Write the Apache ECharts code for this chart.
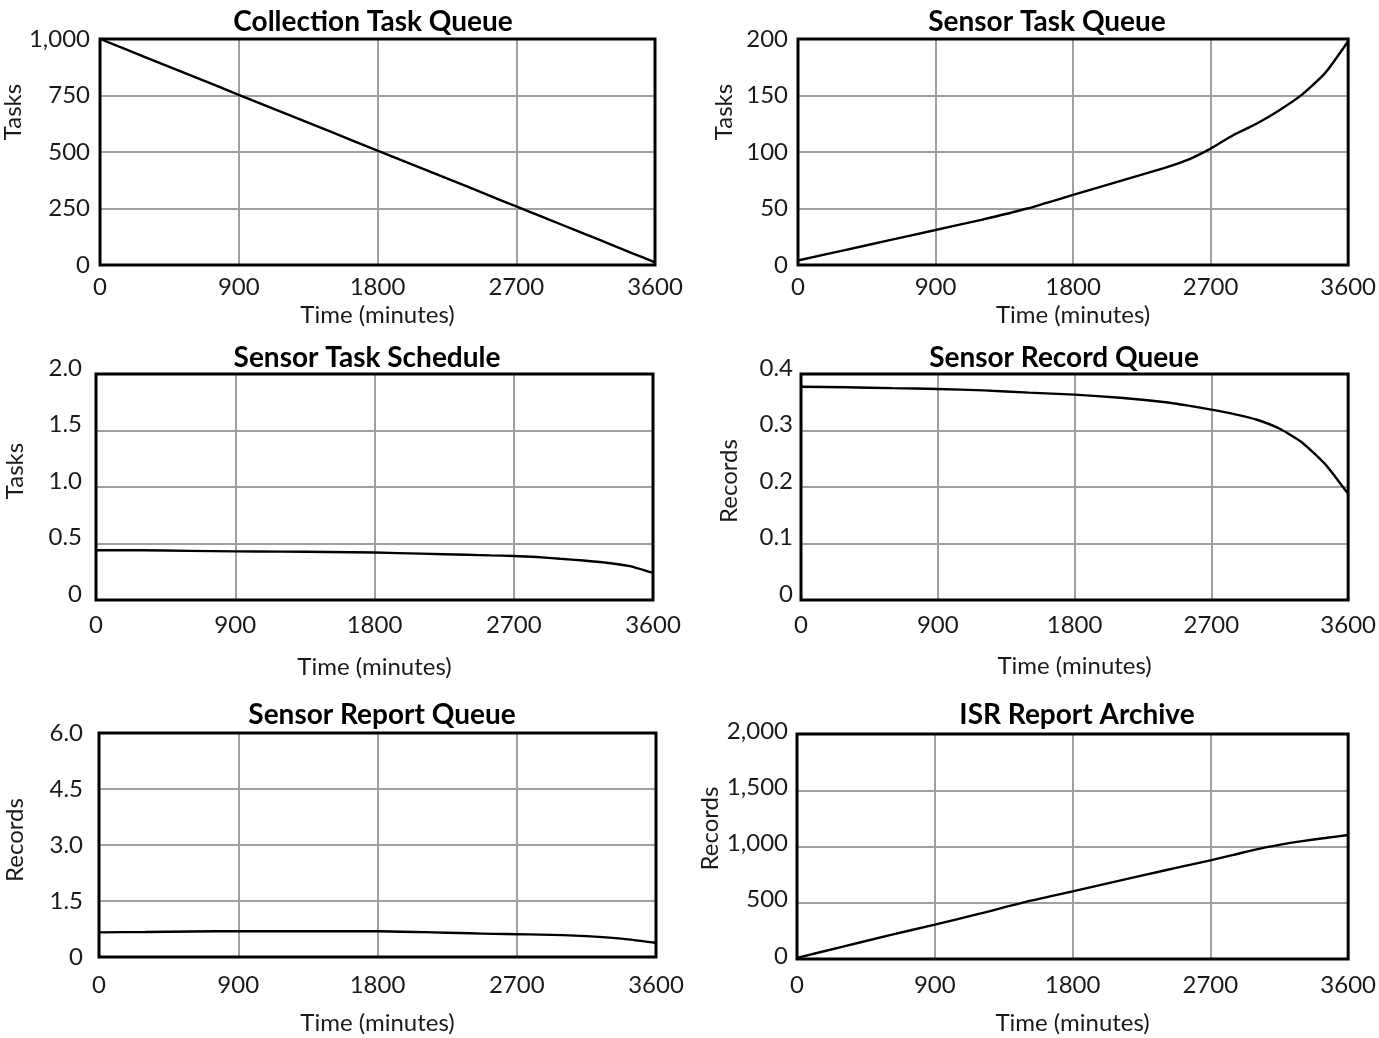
<!DOCTYPE html>
<html><head><meta charset="utf-8">
<script src="https://cdn.jsdelivr.net/npm/echarts@6/dist/echarts.min.js"></script>
<style>html,body{margin:0;padding:0;background:#fff}#c{width:1379px;height:1038px}</style>
</head><body><div id="c"></div>
<script>
// ---- data ----
const timeTicks = ['0', '900', '1800', '2700', '3600'];
const times = [0, 300, 600, 900, 1200, 1500, 1800, 2100, 2400, 2550, 2700, 2850, 3000, 3150, 3300, 3450, 3600];
const collectionTaskQueue = [1000, 918, 836, 753, 671, 589, 506, 424, 342, 300, 259, 218, 177, 136, 95, 53, 12];
const sensorTaskQueue = [4, 13, 22, 31, 40, 50, 62, 74, 86, 93, 103, 115, 125, 137, 151, 170, 198];
const sensorTaskSchedule = [0.44, 0.44, 0.435, 0.43, 0.428, 0.425, 0.42, 0.41, 0.40, 0.395, 0.39, 0.38, 0.365, 0.35, 0.33, 0.30, 0.24];
const sensorRecordQueue = [0.3775, 0.3765, 0.375, 0.3735, 0.371, 0.367, 0.3635, 0.358, 0.35, 0.344, 0.337, 0.329, 0.319, 0.303, 0.278, 0.24, 0.188];
const sensorReportQueue = [0.66, 0.67, 0.685, 0.69, 0.69, 0.69, 0.69, 0.665, 0.635, 0.62, 0.61, 0.60, 0.585, 0.56, 0.52, 0.46, 0.38];
const isrReportArchive = [10, 110, 210, 305, 405, 510, 601, 695, 787, 832, 877, 925, 975, 1015, 1048, 1075, 1102];

const titles = ['Collection Task Queue', 'Sensor Task Queue', 'Sensor Task Schedule', 'Sensor Record Queue', 'Sensor Report Queue', 'ISR Report Archive'];
const yNames = ['Tasks', 'Tasks', 'Tasks', 'Records', 'Records', 'Records'];
const yTicks1 = ['0', '250', '500', '750', '1,000'];
const yTicks2 = ['0', '50', '100', '150', '200'];
const yTicks3 = ['0', '0.5', '1.0', '1.5', '2.0'];
const yTicks4 = ['0', '0.1', '0.2', '0.3', '0.4'];
const yTicks5 = ['0', '1.5', '3.0', '4.5', '6.0'];
const yTicks6 = ['0', '500', '1,000', '1,500', '2,000'];
const yIntervals = [250, 50, 0.5, 0.1, 1.5, 500];
const xName = 'Time (minutes)';

// ---- layout ----
const seriesVals = [collectionTaskQueue, sensorTaskQueue, sensorTaskSchedule, sensorRecordQueue, sensorReportQueue, isrReportArchive];
const yTickSets = [yTicks1, yTicks2, yTicks3, yTicks4, yTicks5, yTicks6];
const layout = [
  {l: 97,  t: 39,  w: 558, h: 226, tx: 368,  ty: 3,   xm: 10, xg: 38, ym: 10, yg: 70, yshift: 80, yup: 0},
  {l: 798, t: 39,  w: 558, h: 226, tx: 1042, ty: 3,   xm: 10, xg: 38, ym: 10, yg: 62, yshift: 80, yup: 0},
  {l: 96,  t: 374, w: 557, h: 226, tx: 362,  ty: 339, xm: 13, xg: 55, ym: 14, yg: 69, yshift: 32, yup: 6},
  {l: 801, t: 374, w: 557, h: 226, tx: 1059, ty: 339, xm: 13, xg: 54, ym: 8,  yg: 60, yshift: 12, yup: 6},
  {l: 99,  t: 733, w: 557, h: 224, tx: 377,  ty: 696, xm: 16, xg: 54, ym: 16, yg: 72, yshift: 10, yup: 0},
  {l: 797, t: 734, w: 557, h: 225, tx: 1072, ty: 696, xm: 14, xg: 52, ym: 9,  yg: 75, yshift: 36, yup: 3}
];

const FONT = 'Lato, "Open Sans", sans-serif';
const option = {
  animation: false,
  backgroundColor: '#fff',
  title: [], grid: [], xAxis: [], yAxis: [], series: []
};

layout.forEach((p, i) => {
  option.title.push({
    text: titles[i], left: p.tx, top: p.ty, textAlign: 'center',
    textStyle: {fontFamily: FONT, fontSize: 28, fontWeight: 'bold', color: '#000'}
  });
  option.grid.push({
    left: p.l, top: p.t, width: p.w, height: p.h,
    show: true, borderColor: '#000', borderWidth: 3, backgroundColor: 'transparent', z: 5
  });
  option.xAxis.push({
    type: 'value', gridIndex: i, min: 0, max: 3600, interval: 900,
    name: xName, nameLocation: 'middle', nameGap: p.xg,
    nameTextStyle: {fontFamily: FONT, fontSize: 24, color: '#1a1a1a'},
    axisLine: {show: false}, axisTick: {show: false},
    axisLabel: {
      margin: p.xm, fontFamily: FONT, fontSize: 24, color: '#1a1a1a',
      formatter: v => timeTicks[Math.round(v / 900)]
    },
    splitLine: {show: true, lineStyle: {color: '#a0a0a0', width: 2}}
  });
  const ticks = yTickSets[i];
  const iv = yIntervals[i];
  const yLabel = {
    margin: p.ym, fontFamily: FONT, fontSize: 24, color: '#1a1a1a',
    formatter: v => ticks[Math.round(v / iv)]
  };
  if (p.yup > 0) { yLabel.verticalAlign = 'bottom'; yLabel.lineHeight = p.yup * 2; }
  option.yAxis.push({
    type: 'value', gridIndex: i, min: 0, max: iv * 4, interval: iv,
    name: yNames[i], nameLocation: 'middle', nameGap: p.yg,
    nameTextStyle: {fontFamily: FONT, fontSize: 24, color: '#1a1a1a', padding: [0, 0, 0, p.yshift]},
    axisLine: {show: false}, axisTick: {show: false},
    axisLabel: yLabel,
    splitLine: {show: true, lineStyle: {color: '#a0a0a0', width: 2}}
  });
  option.series.push({
    type: 'line', xAxisIndex: i, yAxisIndex: i,
    data: times.map((t, k) => [t, seriesVals[i][k]]),
    showSymbol: false, smooth: 0.2,
    lineStyle: {color: '#000', width: 2.4}, z: 3
  });
});

const chart = echarts.init(document.getElementById('c'));
chart.setOption(option);
</script>
</body></html>
